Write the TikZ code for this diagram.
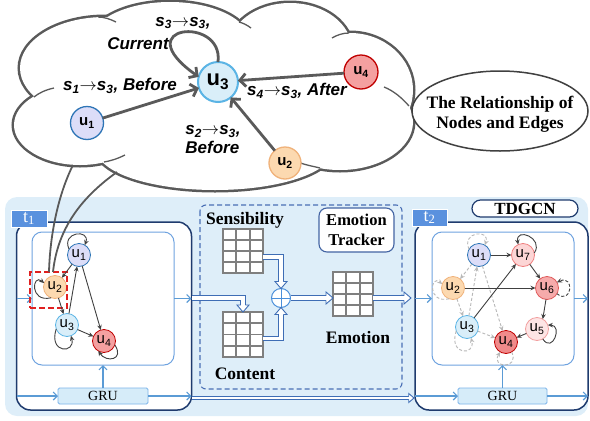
\documentclass[tikz,border=0pt]{standalone}
\usepackage{fontspec}
\setmainfont{Liberation Serif}
\setsansfont{Liberation Sans}
\usetikzlibrary{arrows.meta,calc}
\definecolor{bgblue}{HTML}{DEEEF9}
\definecolor{navy}{HTML}{1F3B6E}
\definecolor{innerblue}{HTML}{6FA3E0}
\definecolor{arrowblue}{HTML}{5B9BD5}
\definecolor{tlabel}{HTML}{5A91DE}
\definecolor{grufill}{HTML}{D6ECF9}
\definecolor{gruborder}{HTML}{7CB4EA}
\definecolor{trackerblue}{HTML}{4A6FB5}
\definecolor{hblue}{HTML}{3E6DB5}
\definecolor{plusblue}{HTML}{4A8FDA}
\definecolor{matgray}{HTML}{7F7F7F}
\definecolor{edgegray}{HTML}{404040}
\definecolor{lightedge}{HTML}{B8B8B8}
\definecolor{cloudgray}{HTML}{5A5A5A}
\definecolor{relgray}{HTML}{404040}
\definecolor{lavfill}{HTML}{DCDDF8}
\definecolor{lavdraw}{HTML}{2E75B6}
\definecolor{peachfill}{HTML}{FCD9B0}
\definecolor{peachdraw}{HTML}{F0B27A}
\definecolor{cyanfill}{HTML}{D9EEF9}
\definecolor{cyandraw}{HTML}{5BB4E5}
\definecolor{redfill}{HTML}{F4A0A0}
\definecolor{reddraw}{HTML}{C00000}
\definecolor{pinkSfill}{HTML}{FCD5D5}
\definecolor{pinkSdraw}{HTML}{F08080}
\definecolor{pinkXfill}{HTML}{F6ABAB}
\definecolor{pinkXdraw}{HTML}{E05A5A}
\definecolor{pinkVfill}{HTML}{FDE5E5}
\definecolor{pinkVdraw}{HTML}{F2A0A0}
\definecolor{redIVfill}{HTML}{F08A8A}
\definecolor{focusred}{HTML}{E02020}

\newcommand{\hollowhead}[3]{%
  \begin{scope}[shift={#1},rotate=#2,scale=#3]
    \filldraw[draw=hblue,fill=white,line width=0.9pt,line join=miter] (-7,-2.25) -- (-7,-6) -- (0,0) -- (-7,6) -- (-7,2.25);
  \end{scope}}
\newcommand{\matgrid}[1]{%
  \foreach \i in {1,2} \draw[matgray,line width=1.8pt] ($(#1.north west)!\i/3!(#1.north east)$) -- ($(#1.south west)!\i/3!(#1.south east)$);
  \foreach \j in {1,2,3} \draw[matgray,line width=1.8pt] ($(#1.north west)!\j/4!(#1.south west)$) -- ($(#1.north east)!\j/4!(#1.south east)$);}

\begin{document}
\begin{tikzpicture}[x=1pt,y=-1pt,
  every node/.style={inner sep=0pt,outer sep=0pt},
  gn/.style={circle,minimum size=23pt,line width=0.8pt,draw,font={\sffamily\fontsize{15}{15}\selectfont}},
  cn/.style={circle,line width=1.3pt,draw,font={\sffamily\bfseries\fontsize{15}{15}\selectfont}},
  nlav/.style={fill=lavfill,draw=lavdraw},
  npeach/.style={fill=peachfill,draw=peachdraw},
  ncyan/.style={fill=cyanfill,draw=cyandraw},
  nred/.style={fill=redfill,draw=reddraw},
  nseven/.style={fill=pinkSfill,draw=pinkSdraw},
  nsix/.style={fill=pinkXfill,draw=pinkXdraw},
  nfive/.style={fill=pinkVfill,draw=pinkVdraw},
  nfour/.style={fill=redIVfill,draw=reddraw},
  gedge/.style={draw=edgegray,line width=0.9pt,-{Stealth[length=5pt,width=4.5pt]}},
  ledge/.style={draw=lightedge,line width=0.9pt,dash pattern=on 3pt off 2pt,-{Stealth[length=5pt,width=4.5pt]}},
  dedge/.style={draw=edgegray,line width=0.9pt,dash pattern=on 3pt off 2pt,-{Stealth[length=5pt,width=4.5pt]}},
  cedge/.style={draw=cloudgray,line width=2.8pt,-{Straight Barb[length=6pt,width=13pt]}},
  barrow/.style={draw=arrowblue,line width=1.1pt,-{Straight Barb[length=4pt,width=8pt]}},
  hshaft/.style={draw=hblue,line width=0.9pt,double=white,double distance=3.6pt},
  tbox/.style={draw=navy,line width=1.5pt,rounded corners=14pt,fill=white,minimum width=175pt,minimum height=188pt},
  tlab/.style={fill=tlabel,draw=white,line width=1pt,minimum width=36pt,minimum height=17pt,text=white,font={\fontsize{18}{18}\selectfont}},
  ibox/.style={draw=innerblue,line width=1pt,rounded corners=10pt,minimum width=142pt,minimum height=133pt},
  gru/.style={fill=grufill,draw=gruborder,line width=0.8pt,minimum width=90pt,minimum height=16pt,rounded corners=1.5pt,font={\fontsize{14}{14}\selectfont}},
  mat/.style={draw=matgray,line width=1.8pt,fill=white,minimum width=40pt,minimum height=44pt},
  lbl/.style={font={\bfseries\fontsize{17.5}{20}\selectfont}},
  clbl/.style={font={\sffamily\bfseries\itshape\fontsize{17}{19}\selectfont}},
  tail/.style={draw=cloudgray,line width=1.3pt}
]
\useasboundingbox (0,0) rectangle (590,421);

% ---------- thought cloud ----------
\def\puffs{105/68/85/51,170/42/80/40,290/50/62/47,350/90/63/57,340/122/73/48,215/150/118/40,80/125/66/40}
\foreach \cx/\cy/\rx/\ry in \puffs
  \draw[cloudgray,line width=5pt] (\cx,\cy) ellipse [x radius=\rx pt,y radius=\ry pt];
\foreach \cx/\cy/\rx/\ry in \puffs
  \fill[white] (\cx,\cy) ellipse [x radius=\rx pt,y radius=\ry pt];
\fill[white] (215,100) ellipse [x radius=150pt,y radius=60pt];
\draw[tail] (34,97) .. controls (39,93) and (45,90) .. (54,88);
\draw[tail] (98,17) .. controls (104,17) and (110,19) .. (116,22);
\draw[tail] (239,22) .. controls (243,23) and (247,25) .. (251,28);
\draw[tail] (349,33) .. controls (343,33) and (337,35) .. (332,38);
\draw[tail] (409,106) .. controls (402,98) and (394,91) .. (384,87);
\draw[tail] (320,168) .. controls (312,166) and (305,165) .. (298,162);
\draw[tail] (104,162) .. controls (110,161) and (117,159) .. (125,155);

% relationship ellipse
\draw[draw=relgray,line width=1.5pt,fill=white] (500,111) ellipse [x radius=88pt,y radius=40pt];
\node[lbl,align=center] (rel) at (500,114) {The Relationship of\\Nodes and Edges};

% cloud nodes
\node[cn,line width=2pt,minimum size=40pt,fill=cyanfill,draw=cyandraw,font={\sffamily\bfseries\fontsize{22}{22}\selectfont}] (c3) at (218,82) {u\textsubscript{3}};
\node[cn,nlav,minimum size=33pt] (c1) at (87,123) {u\textsubscript{1}};
\node[cn,npeach,minimum size=32pt] (c2) at (285,163) {u\textsubscript{2}};
\node[cn,nred,minimum size=34pt] (c4) at (361,72) {u\textsubscript{4}};
\draw[cedge] (c1) -- (c3);
\draw[cedge] (c2) -- (c3);
\draw[cedge] (c4) -- (c3);
\draw[cedge] (c3.north) .. controls (224,15) and (125,25) .. (c3.165);

\node[clbl] (l33) at (183,23) {s\textsubscript{3}$\rightarrow$s\textsubscript{3},};
\node[clbl] (lcur) at (138,44) {Current};
\node[clbl] (l13) at (120,86) {s\textsubscript{1}$\rightarrow$s\textsubscript{3}, Before};
\node[clbl] (l43) at (297,91) {s\textsubscript{4}$\rightarrow$s\textsubscript{3}, After};
\node[clbl,align=left] (l23) at (213,140) {s\textsubscript{2}$\rightarrow$s\textsubscript{3},\\Before};

% ---------- lower panel ----------
\fill[bgblue,rounded corners=12pt] (5,197) rectangle (588,416);
\draw[trackerblue,line width=1.1pt,dash pattern=on 5pt off 3pt,rounded corners=6pt] (200,205) rectangle (402,389);

\node[tbox] (t1box) at (104,316) {};
\node[tbox,minimum width=173pt] (t2box) at (501.5,316) {};
\node[tlab] (t1lab) at (29,218.5) {t\textsubscript{1}};
\node[tlab,minimum width=35pt] (t2lab) at (429.5,217.5) {t\textsubscript{2}};
\node[draw=navy,line width=1.2pt,fill=white,rounded corners=8.5pt,minimum width=106pt,minimum height=17pt,font={\bfseries\fontsize{17}{17}\selectfont}] (tdgcn) at (525,208.5) {TDGCN};

\node[ibox] (in1) at (103,298.5) {};
\node[ibox] (in2) at (503,298.5) {};
\node[gru] (gru1) at (103,396) {GRU};
\node[gru,minimum width=89pt] (gru2) at (502.5,396) {GRU};

\foreach \b/\i/\g in {t1box/in1/gru1,t2box/in2/gru2}{
  \draw[barrow] (\b.west |- \i.west) -- (\i.west);
  \draw[barrow] (\i.east) -- (\i.east -| \b.east);
  \draw[barrow] (\b.west |- \g.west) -- (\g.west);
  \draw[barrow] (\g.east) -- (\g.east -| \b.east);
  \draw[barrow] (\g.north) -- (\i.south -| \g.north);
}

% connectors cloud -> u2
\coordinate (ca) at (73,165);
\coordinate (cb) at (117,172);

% t1 graph nodes
\node[gn,nlav] (p1) at (79,255) {u\textsubscript{1}};
\node[gn,npeach] (p2) at (55,287) {u\textsubscript{2}};
\node[gn,ncyan] (p3) at (67,325) {u\textsubscript{3}};
\node[gn,nred] (p4) at (104,341) {u\textsubscript{4}};
\node[draw=focusred,line width=2pt,dash pattern=on 6pt off 3pt,minimum width=37pt,minimum height=36pt] (focus) at (48.5,290) {};

\draw[cloudgray,line width=1.8pt] (ca) .. controls (58,195) and (50,235) .. ($(focus.north)+(0.5,0)$);
\draw[cloudgray,line width=1.8pt] (cb) .. controls (85,195) and (58,225) .. ($(focus.north)+(4.5,0)$);

\draw[gedge] (p1) -- (p2);
\draw[gedge] (p2) -- (p3);
\draw[gedge] (p3) -- (p1);
\draw[gedge] (p1) -- (p4);
\draw[gedge] (p3) -- (p4);
\draw[gedge] (p1.150) .. controls +(-8,-18) and +(6,-16) .. (p1.60);
\draw[gedge] (p2.250) .. controls +(-22,5) and +(-12,-10) .. (p2.160);
\draw[gedge] (p3.200) .. controls +(-8,25) and +(5,18) .. (p3.290);
\draw[gedge] (p4.340) .. controls +(10,15) and +(8,12) .. (p4.240);

% t2 graph nodes
\node[gn,nlav] (q1) at (479,255) {u\textsubscript{1}};
\node[gn,nseven] (q7) at (523,255) {u\textsubscript{7}};
\node[gn,npeach] (q2) at (453,288) {u\textsubscript{2}};
\node[gn,nsix] (q6) at (547,288) {u\textsubscript{6}};
\node[gn,ncyan] (q3) at (467,327) {u\textsubscript{3}};
\node[gn,nfive] (q5) at (537,329) {u\textsubscript{5}};
\node[gn,nfour] (q4) at (506,342) {u\textsubscript{4}};

\draw[ledge] (q1) -- (q2);
\draw[ledge] (q2) -- (q3);
\draw[ledge] (q3) -- (q1);
\draw[ledge] (q1) -- (q4);
\draw[ledge] (q3) -- (q4);
\draw[ledge] (q1.150) .. controls +(-8,-18) and +(6,-16) .. (q1.60);
\draw[ledge] (q2.250) .. controls +(-22,5) and +(-12,-10) .. (q2.160);
\draw[ledge] (q3.200) .. controls +(-8,25) and +(5,18) .. (q3.290);
\draw[ledge] (q4.300) .. controls +(8,18) and +(-10,16) .. (q4.240);

\draw[gedge] (q1) -- (q7);
\draw[gedge] (q7) -- (q6);
\draw[gedge] (q2) -- (q6);
\draw[gedge] (q3) -- (q7);
\draw[gedge] (q6.265) -- (q5.60);
\draw[gedge] (q5) -- (q4);
\draw[gedge] (q7.10) .. controls +(10,-15) and +(-3,-18) .. (q7.115);
\draw[dedge] (q6.330) .. controls +(15,12) and +(18,-8) .. (q6.30);
\draw[gedge] (q5.300) .. controls +(10,15) and +(15,0) .. (q5.20);

% ---------- emotion tracker ----------
\node[draw=trackerblue!90!black,line width=1.1pt,fill=white,rounded corners=8pt,minimum width=75pt,minimum height=44pt,align=center,font={\bfseries\fontsize{16.5}{20}\selectfont}] (et) at (356.5,230) {Emotion\\Tracker};
\node[lbl] (lsens) at (245,220) {Sensibility};
\node[mat] (sens) at (243,251) {};
\node[mat,minimum height=45pt] (content) at (243,334.5) {};
\node[lbl] (lcont) at (245,374) {Content};
\node[mat] (emo) at (353,294) {};
\node[lbl] (lemo) at (358,338) {Emotion};
\matgrid{sens}
\matgrid{content}
\matgrid{emo}
\node[circle,draw=plusblue,fill=white,line width=1pt,minimum size=19pt] (plus) at (281,298) {};
\draw[plusblue,line width=1pt] (plus.north) -- (plus.south) (plus.west) -- (plus.east);

% hollow arrows
\draw[hshaft] ($(t1box.east |- in1.east)+(0.5,-0.5)$) -| ($(content.north)+(0,-6.5)$);
\hollowhead{(content.north)}{-90}{1}
\draw[hshaft] ($(sens.east)+(0,6)$) -| ($(plus.north)+(0,-6.5)$);
\hollowhead{(plus.north)}{-90}{1}
\draw[hshaft] ($(content.east)+(0,4)$) -| ($(plus.south)+(0,6.5)$);
\hollowhead{(plus.south)}{90}{1}
\draw[hshaft] (plus.east) -- ($(emo.west |- plus.east)+(-6.5,0)$);
\hollowhead{(emo.west |- plus.east)}{0}{1}
\draw[hshaft] (emo.east |- plus.east) -- ($(t2box.west |- plus.east)+(-10.5,0)$);
\hollowhead{($(t2box.west |- plus.east)+(-4,0)$)}{0}{1}
\draw[hshaft,double distance=2.4pt] ($(t1box.east |- gru1.east)+(0.5,2)$) -- ($(t2box.west |- gru2.west)+(-6,2)$);
\hollowhead{($(t2box.west |- gru2.west)+(-1,2)$)}{0}{0.75}
\end{tikzpicture}
\end{document}
